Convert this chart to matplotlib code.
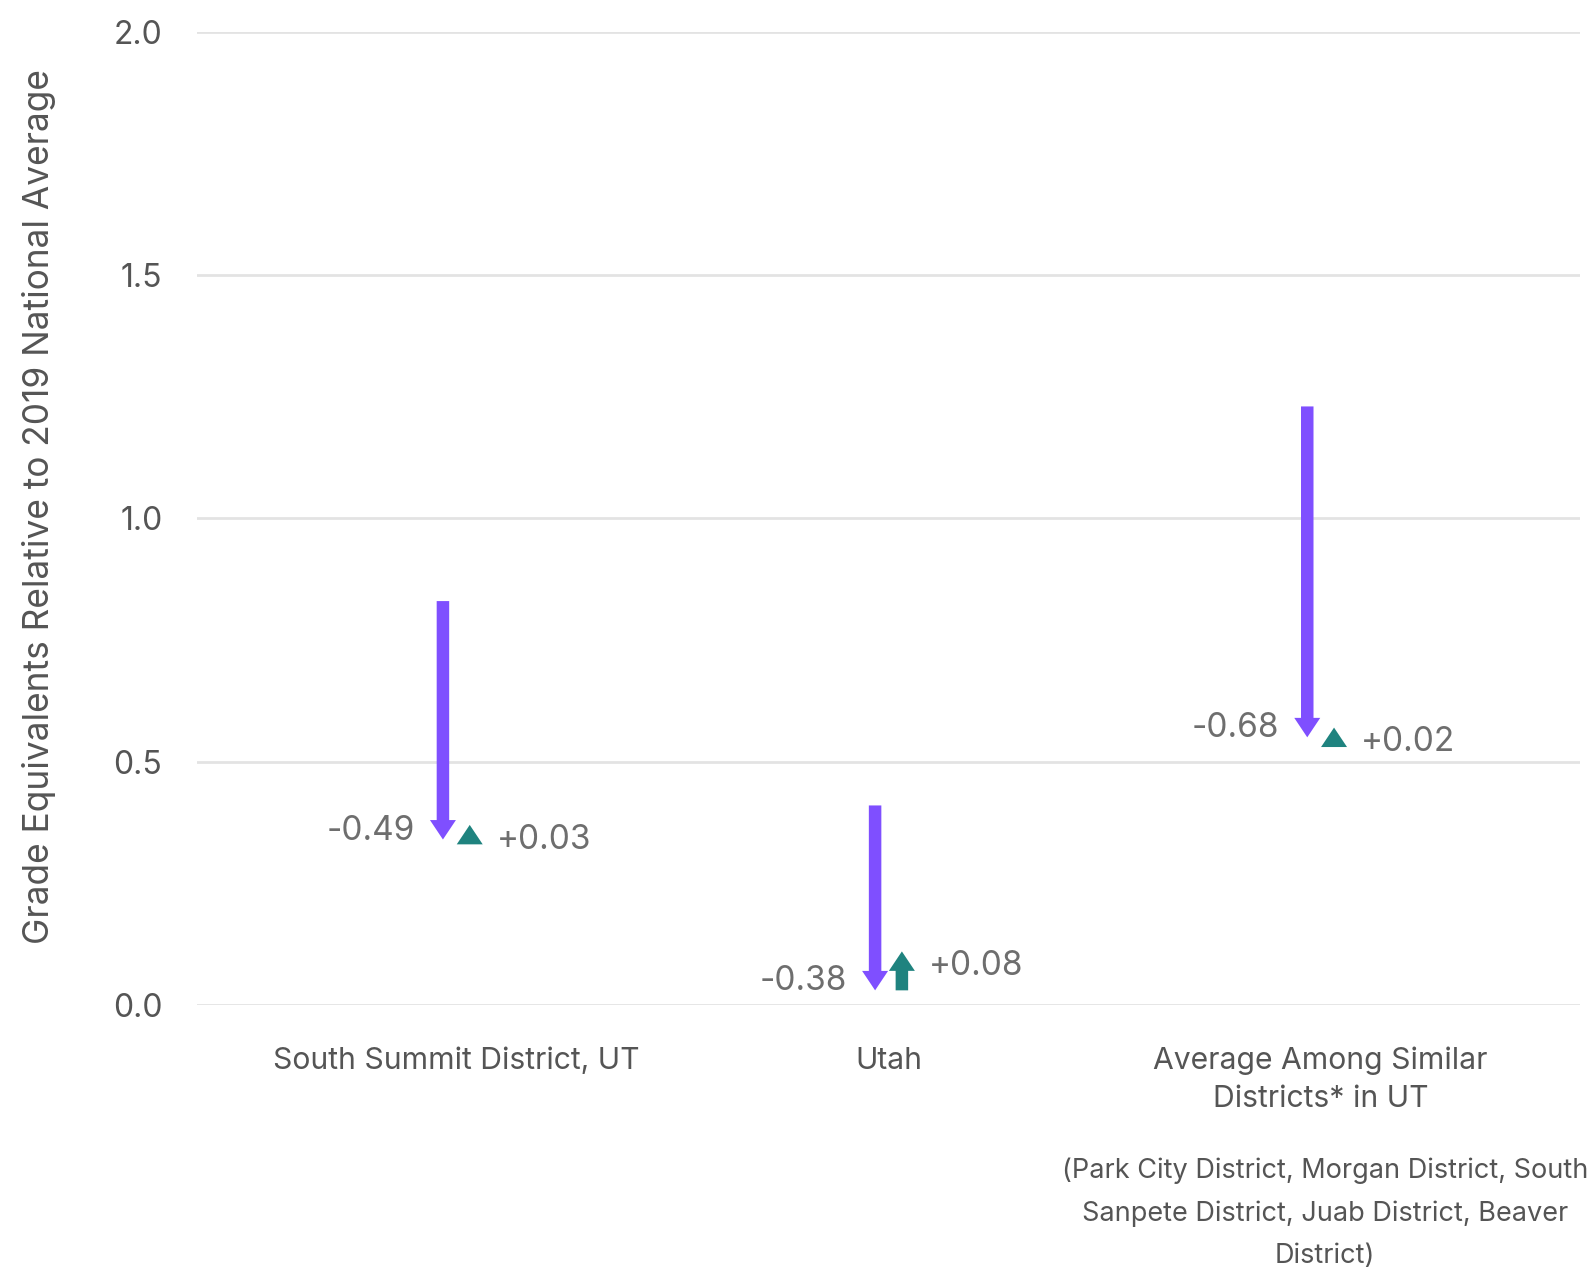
import matplotlib.pyplot as plt

plt.rcParams['font.family'] = ['Inter', 'DejaVu Sans']

categories = ["South Summit District, UT", "Utah", "Average Among Similar\nDistricts* in UT"]
start_values = [0.83, 0.41, 1.23]
decline = [-0.49, -0.38, -0.68]
recovery = [0.03, 0.08, 0.02]
decline_labels = ["-0.49", "-0.38", "-0.68"]
recovery_labels = ["+0.03", "+0.08", "+0.02"]
yticks = [0.0, 0.5, 1.0, 1.5, 2.0]
footnote = "(Park City District, Morgan District, South\nSanpete District, Juab District, Beaver\nDistrict)"

purple = "#7f4fff"
teal = "#1f837f"
grid_gray = "#e3e3e3"
text_gray = "#555555"
value_gray = "#6e6e6e"

fig = plt.figure(figsize=(15.89, 12.70), dpi=100)
ax = fig.add_axes([0.124, 0.2087, 0.8703, 0.7663])

arrow_style = "simple,head_length=14,head_width=18.7,tail_width=9"
dx = 0.031  # half-gap between the two arrows of a category

for i in range(len(categories)):
    y0 = start_values[i]
    y1 = y0 + decline[i]
    y2 = y1 + recovery[i]
    ax.annotate("", xy=(i - dx, y1), xytext=(i - dx, y0),
                arrowprops=dict(arrowstyle=arrow_style, mutation_scale=1,
                                color=purple, lw=0, shrinkA=0, shrinkB=0))
    ax.annotate("", xy=(i + dx, y2), xytext=(i + dx, y1),
                arrowprops=dict(arrowstyle=arrow_style, mutation_scale=1,
                                color=teal, lw=0, shrinkA=0, shrinkB=0))
    ax.annotate(decline_labels[i], xy=(i - dx, y1), xytext=(-20, 0),
                textcoords="offset points", ha="right", va="baseline",
                fontsize=24, color=value_gray)
    ax.annotate(recovery_labels[i], xy=(i + dx, y2), xytext=(19.5, -17),
                textcoords="offset points", ha="left", va="baseline",
                fontsize=24, color=value_gray)

ax.set_xlim(-0.6, 2.6)
ax.set_ylim(0, 2.0)
ax.set_yticks(yticks)
ax.set_yticklabels([f"{t:.1f}" for t in yticks])
ax.set_xticks(range(len(categories)))
ax.set_xticklabels(categories, linespacing=1.45)
ax.tick_params(axis="y", length=0, pad=25, labelsize=23, labelcolor=text_gray)
ax.tick_params(axis="x", length=0, pad=30, labelsize=21.7, labelcolor=text_gray)
ax.grid(axis="y", color=grid_gray, linewidth=2)
ax.set_axisbelow(True)
for s in ax.spines.values():
    s.set_visible(False)

ax.set_ylabel("Grade Equivalents Relative to 2019 National Average",
              fontsize=25.4, color=text_gray, ha="center", va="center")
ax.yaxis.set_label_coords(-0.1146, 0.512)

ax.text(2.01, -0.214, footnote, ha="center", va="center", fontsize=19.5,
        color=text_gray, linespacing=1.78, transform=ax.get_xaxis_transform())

fig.savefig("out.png", dpi=100)
